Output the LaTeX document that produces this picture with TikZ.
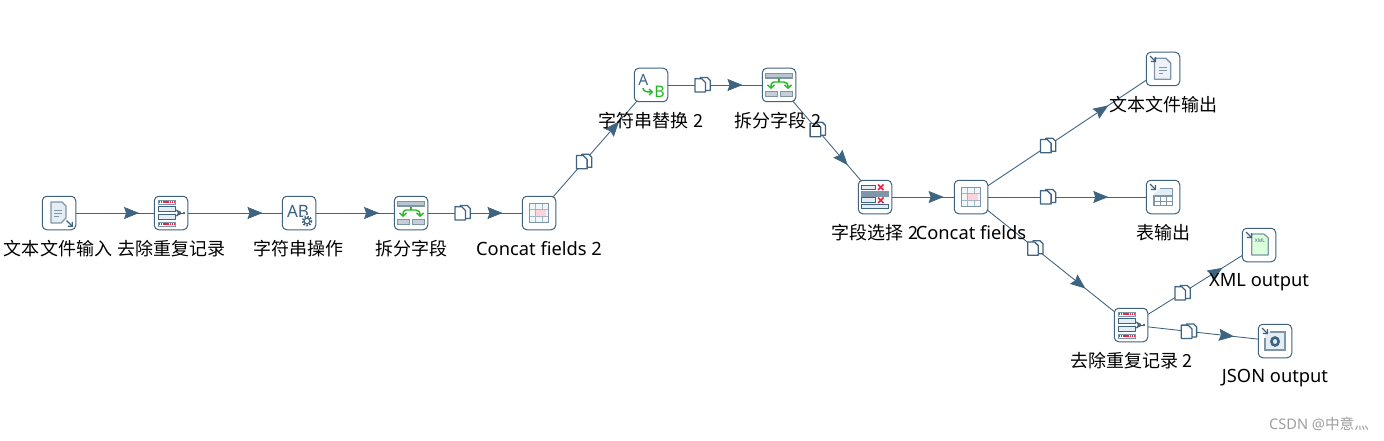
\documentclass[tikz,border=0pt]{standalone}
\usepackage{fontspec}
\setmainfont{Noto Sans}
\newfontfamily\cjk{Noto Sans CJK SC}
\usetikzlibrary{arrows.meta,decorations.markings}
\pgfdeclarelayer{edges}
\pgfsetlayers{edges,main}
\definecolor{steel}{HTML}{3F6482}
\definecolor{paleblue}{HTML}{E4EDF3}
\definecolor{midgray}{HTML}{7F95A8}
\definecolor{okgreen}{HTML}{22B822}
\definecolor{xred}{HTML}{EE2244}
\tikzset{
  x=1pt,y=-1pt,
  stepbox/.style={draw=steel,line width=1pt,rounded corners=4.5pt,fill=white,minimum size=33.5pt,inner sep=0pt},
  steplabel/.style={font=\fontsize{18.3}{20}\selectfont,text=black,inner sep=0pt,anchor=center},
  cjklabel/.style={font=\fontsize{18}{20}\selectfont\cjk,text=black,inner sep=0pt,anchor=center},
  link/.style={draw=steel,line width=.85pt,postaction={decorate},
    decoration={markings,mark=at position .715 with {\arrow[steel]{Stealth[length=15pt,width=12pt,inset=2pt]}}}},
  icg/.style={draw=midgray,line width=1pt},
  pics/copies/.style={code={
    \draw[steel,line width=1.3pt,fill=white,line join=round] (-2,-7.5) -- (5,-7.5) -- (8,-4.5) -- (8,5.5) -- (-2,5.5) -- cycle;
    \draw[steel,line width=1.3pt,fill=white,line join=round] (-7.3,-6.3) -- (-0.5,-6.3) -- (3.3,-2.5) -- (3.3,7) -- (-7.3,7) -- cycle;
  }},
  pics/arrowin/.style={code={
    \draw[steel,line width=1.3pt,-{Straight Barb[length=3.2pt,width=6pt]}] (-13,-13) -- (-6.8,-6.8);
  }},
  pics/arrowout/.style={code={
    \draw[steel,line width=1.3pt,-{Straight Barb[length=3.2pt,width=6pt]}] (7.5,7.5) -- (14,14);
  }},
  pics/fileinput/.style={code={
    \draw[midgray,line width=1.4pt,fill=paleblue,line join=round] (-8,-11) -- (3,-11) -- (7,-7) -- (7,5) -- (2,10) -- (-8,10) -- cycle;
    \draw[icg,line width=.8pt] (-5,-3) -- (3,-3) (-5,0) -- (3,0) (-5,3) -- (0,3);
    \pic at (0,0) {arrowout};
  }},
  pics/dedup/.style={code={
    \draw[midgray,fill=white,line width=1pt] (-13,-13) rectangle (4,-9);
    \draw[xred,line width=2pt,dash pattern=on 1.3pt off .8pt] (-12,-11) -- (3,-11);
    \draw[steel,fill=paleblue,line width=1pt] (-13,-7) rectangle (4,-2);
    \draw[steel,fill=paleblue,line width=1pt] (-13,1) rectangle (4,6);
    \draw[midgray,fill=white,line width=1pt] (-13,9) rectangle (4,13);
    \draw[xred,line width=2pt,dash pattern=on 1.3pt off .8pt] (-12,11) -- (3,11);
    \fill[steel] (4,-4) -- (10,-1) -- (10,1) -- (4,4) -- (7,0) -- cycle;
    \draw[steel,line width=1pt] (7,0) -- (13,0);
    \fill[steel] (13,0) circle (1.4);
  }},
  pics/strops/.style={code={
    \node[text=steel,inner sep=0pt,font=\fontsize{17}{17}\selectfont] at (-1,-2) {AB};
    \fill[white] (8,8) circle (6);
    \draw[steel,line width=2.4pt,dash pattern=on 1.4pt off 1.4pt] (8,8) circle (4.2);
    \draw[steel,line width=1pt,fill=white] (8,8) circle (2.8);
  }},
  pics/splitter/.style={code={
    \draw[midgray,fill=midgray!55,line width=1.2pt] (-13.5,-11.5) rectangle (13.5,-7);
    \draw[okgreen,line width=1.4pt] (0,-6.5) -- (0,-3);
    \draw[okgreen,line width=1.4pt,-{Straight Barb[length=3.2pt,width=7pt]}] (0,-3) -- (-5,-3) .. controls (-7.5,-3) and (-8,-1) .. (-8,4);
    \draw[okgreen,line width=1.4pt,-{Straight Barb[length=3.2pt,width=7pt]}] (0,-3) -- (5,-3) .. controls (8,-3) and (9,-1) .. (9,4);
    \draw[midgray,fill=midgray!45,line width=1.2pt] (-13.5,6.5) rectangle (-1.2,11.5);
    \draw[midgray,fill=midgray!45,line width=1.2pt] (1.5,6.5) rectangle (13.5,11.5);
  }},
  pics/concatgrid/.style={code={
    \fill[paleblue!50] (-9.5,-9.5) rectangle (9.5,9.5);
    \draw[midgray!70,line width=.7pt] (-3.2,-9.5) -- (-3.2,9.5) (3.2,-9.5) -- (3.2,9.5) (-9.5,-3.2) -- (9.5,-3.2) (-9.5,3.2) -- (9.5,3.2);
    \fill[xred!20] (-3,-3) rectangle (7,3);
    \draw[midgray,line width=1.5pt] (-9.5,-9.5) rectangle (9.5,9.5);
  }},
  pics/replacer/.style={code={
    \node[text=steel,inner sep=0pt,font=\fontsize{15.5}{16}\selectfont] at (-7.7,-5.5) {A};
    \node[text=okgreen,inner sep=0pt,font=\fontsize{16}{16}\selectfont] at (8.5,6.5) {B};
    \draw[okgreen,line width=1.4pt,-{Straight Barb[length=3pt,width=6pt]}] (-8,3) .. controls (-8,6.5) and (-5,7) .. (2,7);
  }},
  pics/selector/.style={code={
    \draw[steel,fill=paleblue,line width=1pt] (-13.3,-12) rectangle (0.7,-7.7);
    \draw[midgray,fill=midgray,line width=1pt] (-13.3,-5.7) rectangle (13,-1);
    \draw[steel,fill=paleblue,line width=1pt] (-13.3,.5) rectangle (0.7,5.5);
    \draw[steel,fill=paleblue,line width=1pt] (-13.3,7) rectangle (13,11.7);
    \draw[xred,line width=1.5pt] (3,-12.5) -- (8.5,-7) (8.5,-12.5) -- (3,-7) (3,.5) -- (8.5,6) (8.5,.5) -- (3,6);
  }},
  pics/fileoutput/.style={code={
    \draw[midgray,line width=1.4pt,fill=paleblue!70,line join=round] (-8.5,-10.7) -- (3,-10.7) -- (7.7,-6) -- (7.7,10.3) -- (-8.5,10.3) -- cycle;
    \draw[icg,line width=.8pt] (-4,-2) -- (4,-2) (-4,1) -- (4,1) (-4,4) -- (0,4);
    \pic at (0,0) {arrowin};
  }},
  pics/tableoutput/.style={code={
    \fill[paleblue] (-3,-8.7) -- (9.7,-8.7) -- (9.7,-1) -- (-9,-1) -- (-9,-3) -- cycle;
    \draw[midgray,line width=.8pt] (-9,4.3) -- (9.7,4.3) (-3,-1) -- (-3,8.7) (3.7,-1) -- (3.7,8.7);
    \draw[midgray,line width=1.4pt] (-3,-8.7) -- (9.7,-8.7) -- (9.7,8.7) -- (-9,8.7) -- (-9,-1) -- (9.7,-1);
    \pic at (0,0) {arrowin};
  }},
  pics/xmloutput/.style={code={
    \draw[midgray,line width=1.3pt,fill=green!14!white,line join=round] (-7.3,-11) -- (5,-11) -- (9.3,-7) -- (9.3,10) -- (-7.3,10) -- cycle;
    \node[text=steel,inner sep=0pt,font=\fontsize{5}{5}\selectfont\bfseries] at (1,-4) {XML};
    \pic at (0,0) {arrowin};
  }},
  pics/jsonoutput/.style={code={
    \fill[paleblue] (-10,-9) rectangle (10,9);
    \draw[midgray,line width=1.5pt] (-10,-3) -- (-10,9) -- (10,9) -- (10,-9) -- (-5,-9);
    \draw[steel,line width=2.6pt] (0,.5) ellipse (3.6 and 4);
    \pic at (0,0) {arrowin};
  }},
}
\newcommand\plainlink[2]{\draw[link] (#1.center) -- (#2.center);}
\newcommand\copylink[2]{\draw[link] (#1.center) -- (#2.center);
  \path (#1.center) -- coordinate[pos=.4] (cm) (#2.center);
  \pic at (cm) {copies};}
\begin{document}
\begin{tikzpicture}
\useasboundingbox (0,0) rectangle (1384,441);
% step boxes
\node[stepbox] (inp)   at (59,213) {};
\node[stepbox] (ded)   at (171,213) {};
\node[stepbox] (str)   at (299,213) {};
\node[stepbox] (spl)   at (411,213) {};
\node[stepbox] (cctb)  at (539,213) {};
\node[stepbox] (rep)   at (651,85) {};
\node[stepbox] (splb)  at (779,85) {};
\node[stepbox] (sel)   at (875,197) {};
\node[stepbox] (cct)   at (971,197) {};
\node[stepbox] (fout)  at (1163,69) {};
\node[stepbox] (tout)  at (1163,197) {};
\node[stepbox] (xout)  at (1259,245) {};
\node[stepbox] (dedb)  at (1131,325) {};
\node[stepbox] (jout)  at (1275,341) {};
% icons
\pic at (inp) {fileinput};
\pic at (ded) {dedup};
\pic at (str) {strops};
\pic at (spl) {splitter};
\pic at (cctb) {concatgrid};
\pic at (rep) {replacer};
\pic at (splb) {splitter};
\pic at (sel) {selector};
\pic at (cct) {concatgrid};
\pic at (fout) {fileoutput};
\pic at (tout) {tableoutput};
\pic at (xout) {xmloutput};
\pic at (dedb) {dedup};
\pic at (jout) {jsonoutput};
% connectors
\begin{pgfonlayer}{edges}
\fill[white] (0,0) rectangle (1384,441);
\plainlink{inp}{ded}
\plainlink{ded}{str}
\plainlink{str}{spl}
\copylink{spl}{cctb}
\copylink{cctb}{rep}
\copylink{rep}{splb}
\copylink{splb}{sel}
\plainlink{sel}{cct}
\copylink{cct}{fout}
\copylink{cct}{tout}
\copylink{cct}{dedb}
\copylink{dedb}{xout}
\copylink{dedb}{jout}
\end{pgfonlayer}
% labels
\node[cjklabel] (l1) at (58,249) {文本文件输入};
\node[cjklabel] (l2) at (171,249) {去除重复记录};
\node[cjklabel] (l3) at (298,249) {字符串操作};
\node[cjklabel] (l4) at (411,249) {拆分字段};
\node[steplabel] (l5) at (539,249) {Concat fields 2};
\node[cjklabel] (l6) at (651,121) {字符串替换 2};
\node[cjklabel] (l7) at (778,121) {拆分字段 2};
\node[cjklabel] (l8) at (875,233) {字段选择 2};
\node[steplabel] (l9) at (971,233) {Concat fields};
\node[cjklabel] (l10) at (1163,105) {文本文件输出};
\node[cjklabel] (l11) at (1163,233) {表输出};
\node[steplabel] (l12) at (1259,282.5) {XML output};
\node[cjklabel] (l13) at (1131,361) {去除重复记录 2};
\node[steplabel] (l14) at (1275,378.5) {JSON output};
\node[inner sep=0pt,text=black!38,font=\fontsize{14.6}{15}\selectfont] (wm) at (1319,424) {CSDN @{\cjk 中意灬}};
\end{tikzpicture}
\end{document}
